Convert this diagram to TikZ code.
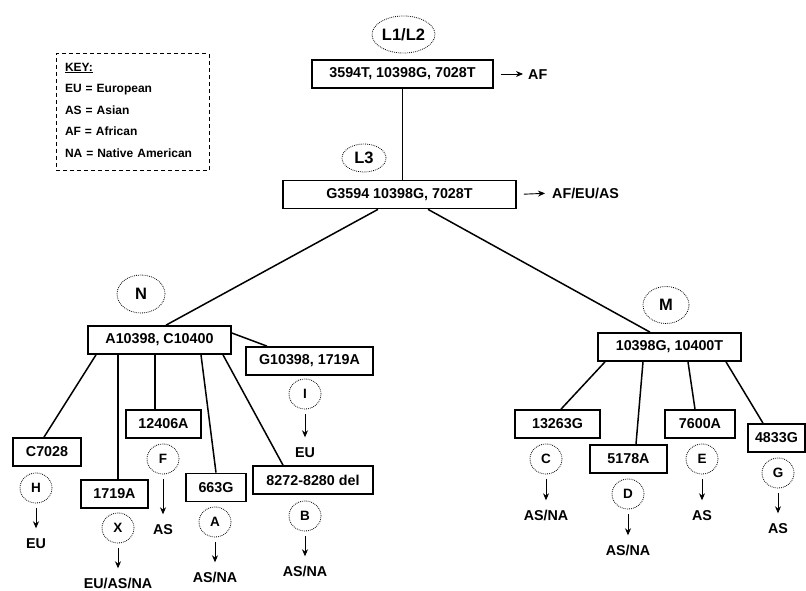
\documentclass[tikz,border=0pt]{standalone}
\usepackage{fontspec}
\setmainfont{Liberation Sans}
\usetikzlibrary{shapes.geometric, arrows.meta}

\begin{document}
\begin{tikzpicture}[
    x=1pt,
    y=-1pt,
    font=\bfseries,
    box/.style={draw, line width=1.7pt, minimum height=28, inner sep=0,
        font=\fontsize{14.3}{17}\selectfont\bfseries},
    tag/.style={draw, ellipse, inner sep=0, line width=0.8pt,
        dash pattern=on 0.8pt off 1.1pt, font=\fontsize{16.5}{19}\selectfont\bfseries},
    hap/.style={tag, minimum width=32, minimum height=30,
        font=\fontsize{13.5}{16}\selectfont\bfseries},
    reg/.style={inner sep=0, text height=10.5, text depth=0,
        font=\fontsize{14.3}{17}\selectfont\bfseries},
    e/.style={draw, line width=1.5pt},
    arr/.style={line width=0.9pt, -{Stealth[length=7pt, width=6pt]},
        shorten <=5pt, shorten >=9.25pt},
]
    \useasboundingbox (0, 0) rectangle (806, 591);

    \node[draw, dashed, dash pattern=on 4pt off 3pt, line width=1pt,
        minimum width=153, minimum height=117, text width=135, inner xsep=9,
        align=left, font=\fontsize{12}{21.5}\selectfont\bfseries]
        (key) at (132.5, 112.5)
        {\underline{KEY:}\\EU = European\\AS = Asian\\AF = African\\NA = Native American\rule[-5pt]{0pt}{0pt}};

    \node[tag, minimum width=63, minimum height=37] (tl12) at (403.5, 34.5) {L1/L2};
    \node[box, minimum width=181] (root) at (402.5, 74) {3594T, 10398G, 7028T};
    \node[reg, anchor=west] (raf) at (528, 74) {AF};
    \node[tag, minimum width=44, minimum height=28] (tl3) at (364, 158) {L3};
    \node[box, minimum width=233] (l3) at (399.5, 194.5) {G3594 10398G, 7028T};
    \node[reg, anchor=west] (rl3) at (552, 193) {AF/EU/AS};

    \node[tag, minimum width=48, minimum height=38] (tn) at (141, 294) {N};
    \node[box, minimum width=143] (n) at (159.5, 340) {A10398, C10400};
    \node[box, minimum width=127] (gx) at (309.5, 361) {G10398, 1719A};
    \node[box, minimum width=68] (h) at (47, 452) {C7028};
    \node[box, minimum width=67] (x) at (114.5, 494) {1719A};
    \node[box, minimum width=75] (f) at (163.5, 424) {12406A};
    \node[box, minimum width=60] (a) at (216, 487.5) {663G};
    \node[box, minimum width=120] (b) at (313, 480) {8272-8280 del};

    \node[tag, minimum width=46, minimum height=37] (tm) at (666, 305) {M};
    \node[box, minimum width=143] (m) at (669.5, 347) {10398G, 10400T};
    \node[box, minimum width=85] (c) at (557.5, 424) {13263G};
    \node[box, minimum width=77] (d) at (628.5, 459) {5178A};
    \node[box, minimum width=70] (e) at (700, 424) {7600A};
    \node[box, minimum width=57] (g) at (776.5, 438) {4833G};

    \node[hap] (ci) at (305, 394) {I};
    \node[hap] (ch) at (36, 488) {H};
    \node[hap] (cx) at (118, 528) {X};
    \node[hap] (cf) at (163, 459) {F};
    \node[hap] (ca) at (215, 522) {A};
    \node[hap] (cb) at (305, 516) {B};
    \node[hap] (cc) at (546, 459) {C};
    \node[hap] (cd) at (628, 494) {D};
    \node[hap] (ce) at (702, 459) {E};
    \node[hap] (cg) at (778, 473) {G};

    \node[reg] (ri) at (305, 452) {EU};
    \node[reg] (rh) at (36, 543) {EU};
    \node[reg] (rx) at (118, 583) {EU/AS/NA};
    \node[reg] (rf) at (163, 529) {AS};
    \node[reg] (ra) at (215, 577) {AS/NA};
    \node[reg] (rb) at (305, 571) {AS/NA};
    \node[reg] (rc) at (546, 515) {AS/NA};
    \node[reg] (rd) at (628, 550) {AS/NA};
    \node[reg] (re) at (702, 515) {AS};
    \node[reg] (rg) at (778, 528) {AS};

    \path[e] (root.south) edge (root.south |- l3.north);
    \path[e] ([xshift=-21.5]l3.south) edge ([xshift=6.5]n.north);
    \path[e] ([xshift=28.5]l3.south) edge ([xshift=-19.5]m.north);
    \path[e] ([yshift=7]n.east) edge ([xshift=-42.5]gx.north);
    \path[e] ([xshift=-63.5]n.south) edge ([xshift=-3]h.north);
    \path[e] ([xshift=-41.5]n.south) edge ([xshift=3.5]x.north);
    \path[e] ([xshift=-4.5]n.south) edge ([xshift=-8.5]f.north);
    \path[e] ([xshift=41.5]n.south) edge (a.north);
    \path[e] ([xshift=63.5]n.south) edge ([xshift=-30]b.north);
    \path[e] ([xshift=-64.5]m.south) edge ([xshift=3.5]c.north);
    \path[e] ([xshift=-26.5]m.south) edge ([xshift=7.5]d.north);
    \path[e] ([xshift=18.5]m.south) edge ([xshift=-5]e.north);
    \path[e] ([xshift=56.5]m.south) edge ([xshift=-13.5]g.north);

    \draw[arr, shorten <=7pt, shorten >=5pt] (root.east) -- (raf.west);
    \draw[arr, shorten <=7pt, shorten >=7pt] (l3.east) -- (rl3.west);
    \draw[arr] (ci) -- (ri);
    \draw[arr] (ch) -- (rh);
    \draw[arr] (cx) -- (rx);
    \draw[arr] (cf) -- (rf);
    \draw[arr] (ca) -- (ra);
    \draw[arr] (cb) -- (rb);
    \draw[arr] (cc) -- (rc);
    \draw[arr] (cd) -- (rd);
    \draw[arr] (ce) -- (re);
    \draw[arr] (cg) -- (rg);
\end{tikzpicture}
\end{document}
